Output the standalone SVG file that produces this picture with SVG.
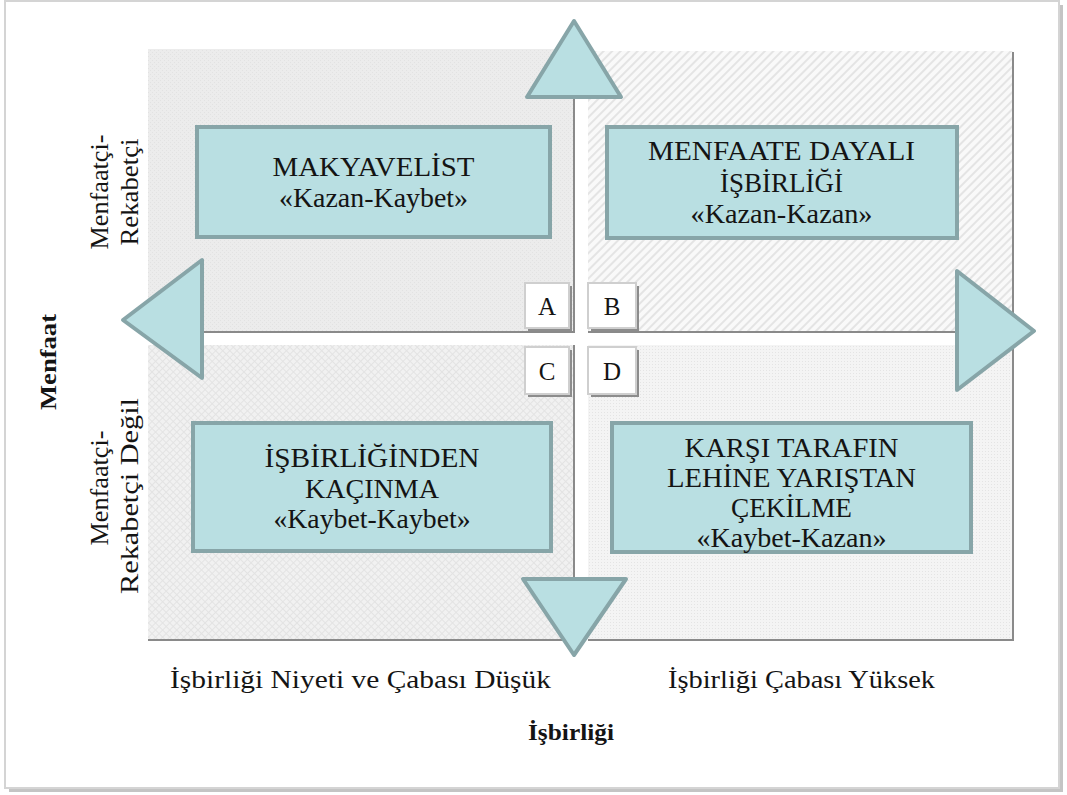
<svg xmlns="http://www.w3.org/2000/svg" width="1067" height="795" viewBox="0 0 1067 795">
<style>
.t{font-family:"Liberation Serif","Times New Roman",serif;fill:#141414;text-anchor:middle}
.bx{font-size:27px}
.lbl{font-size:26px}
.let{font-size:25px}
.b{font-weight:bold;font-size:23px}
.box{fill:#b9dfe2;stroke:#87a5a8;stroke-width:4}
.tri{fill:#b9dfe2;stroke:#87a5a8;stroke-width:4;stroke-linejoin:round}
.edge{stroke:#8a8a8a;stroke-width:2;fill:none}
.lbox{fill:#ffffff;stroke:#cfcfcf;stroke-width:2}
.lsh{fill:#8c8c8c}
</style>
<defs>
<pattern id="pTL" width="4" height="4" patternUnits="userSpaceOnUse">
<rect width="4" height="4" fill="#ececec"/>
<rect x="0" y="0" width="1" height="1" fill="#e2e2e2"/>
<rect x="2" y="2" width="1" height="1" fill="#e2e2e2"/>
</pattern>
<pattern id="pTR" width="6" height="6" patternUnits="userSpaceOnUse" patternTransform="rotate(45)">
<rect width="6" height="6" fill="#f9f9f9"/>
<rect x="0" y="0" width="2" height="6" fill="#e4e4e4"/>
</pattern>
<pattern id="pBL" width="5" height="5" patternUnits="userSpaceOnUse" patternTransform="rotate(45)">
<rect width="5" height="5" fill="#f1f1f1"/>
<rect x="0" y="0" width="1" height="5" fill="#e3e3e3"/>
<rect x="0" y="0" width="5" height="1" fill="#e3e3e3"/>
</pattern>
<pattern id="pBR" width="3" height="3" patternUnits="userSpaceOnUse">
<rect width="3" height="3" fill="#f4f4f4"/>
<rect x="1" y="1" width="1" height="1" fill="#e4e4e4"/>
</pattern>
</defs>

<g id="frame">
<rect x="9" y="5" width="1054" height="787" fill="#c4c4c4"/>
<rect x="5" y="1" width="1054" height="787" fill="#ffffff" stroke="#d4d4d4" stroke-width="2"/>
</g>

<g id="panels">
<rect id="panel-tl" x="148" y="49" width="426" height="283" fill="url(#pTL)"/>
<rect id="panel-tr" x="588" y="51" width="425" height="281" fill="url(#pTR)"/>
<rect id="panel-bl" x="148" y="345" width="426" height="295" fill="url(#pBL)"/>
<rect id="panel-br" x="588" y="345" width="425" height="295" fill="url(#pBR)"/>
<path class="edge" d="M1013,52 V332 H588"/>
<path class="edge" d="M1013,346 V640 H588"/>
<path class="edge" d="M148,640 H574"/>
</g>

<g id="connectors">
<path class="edge" d="M574,97 V332 H190"/>
<path class="edge" d="M574,345 V590"/>
<path class="edge" d="M588,332 H960"/>
<polygon class="tri" points="574,21 621,97 527,97"/>
<polygon class="tri" points="123,320 202,260 202,378"/>
<polygon class="tri" points="1034,331 957,271 957,390"/>
<polygon class="tri" points="574,655 523,579 626,579"/>
</g>

<g id="node-a">
<rect id="box-a" class="box" x="197" y="127" width="353" height="110"/>
<text class="t bx" x="373.5" y="176" textLength="202" lengthAdjust="spacingAndGlyphs">MAKYAVELİST</text>
<text class="t bx" x="373.5" y="207" textLength="189" lengthAdjust="spacingAndGlyphs">«Kazan-Kaybet»</text>
</g>

<g id="node-b">
<rect id="box-b" class="box" x="607" y="127" width="350" height="111"/>
<text class="t bx" x="781.5" y="160" textLength="267" lengthAdjust="spacingAndGlyphs">MENFAATE DAYALI</text>
<text class="t bx" x="781.5" y="192" textLength="123" lengthAdjust="spacingAndGlyphs">İŞBİRLİĞİ</text>
<text class="t bx" x="781.5" y="223" textLength="182" lengthAdjust="spacingAndGlyphs">«Kazan-Kazan»</text>
</g>

<g id="node-c">
<rect id="box-c" class="box" x="193" y="423" width="358" height="128"/>
<text class="t bx" x="372" y="467" textLength="215" lengthAdjust="spacingAndGlyphs">İŞBİRLİĞİNDEN</text>
<text class="t bx" x="372" y="498" textLength="134" lengthAdjust="spacingAndGlyphs">KAÇINMA</text>
<text class="t bx" x="372" y="528" textLength="197" lengthAdjust="spacingAndGlyphs">«Kaybet-Kaybet»</text>
</g>

<g id="node-d">
<rect id="box-d" class="box" x="612" y="423" width="359" height="129"/>
<text class="t bx" x="791.5" y="457" textLength="214" lengthAdjust="spacingAndGlyphs">KARŞI TARAFIN</text>
<text class="t bx" x="791.5" y="487" textLength="249" lengthAdjust="spacingAndGlyphs">LEHİNE YARIŞTAN</text>
<text class="t bx" x="791.5" y="517" textLength="121" lengthAdjust="spacingAndGlyphs">ÇEKİLME</text>
<text class="t bx" x="791.5" y="547" textLength="190" lengthAdjust="spacingAndGlyphs">«Kaybet-Kazan»</text>
</g>

<g id="letter-a">
<rect class="lsh" x="528" y="286" width="44" height="45"/>
<rect class="lbox" x="525" y="283" width="44" height="45"/>
<text class="t let" x="547" y="315">A</text>
</g>
<g id="letter-b">
<rect class="lsh" x="591" y="286" width="48" height="45"/>
<rect class="lbox" x="588" y="283" width="48" height="45"/>
<text class="t let" x="612" y="315">B</text>
</g>
<g id="letter-c">
<rect class="lsh" x="528" y="350" width="44" height="47"/>
<rect class="lbox" x="525" y="347" width="44" height="47"/>
<text class="t let" x="547" y="380">C</text>
</g>
<g id="letter-d">
<rect class="lsh" x="591" y="350" width="48" height="47"/>
<rect class="lbox" x="588" y="347" width="48" height="47"/>
<text class="t let" x="612" y="380">D</text>
</g>

<g id="axis-labels">
<text class="t lbl" x="360.5" y="688" textLength="381" lengthAdjust="spacingAndGlyphs">İşbirliği Niyeti ve Çabası Düşük</text>
<text class="t lbl" x="801.5" y="688" textLength="267" lengthAdjust="spacingAndGlyphs">İşbirliği Çabası Yüksek</text>
<text class="t b" x="571" y="740" textLength="86" lengthAdjust="spacingAndGlyphs">İşbirliği</text>
<text class="t b" transform="translate(56,362) rotate(-90)" textLength="96" lengthAdjust="spacingAndGlyphs">Menfaat</text>
<text class="t lbl" transform="translate(108,192) rotate(-90)" textLength="115" lengthAdjust="spacingAndGlyphs">Menfaatçi-</text>
<text class="t lbl" transform="translate(138,192) rotate(-90)" textLength="107" lengthAdjust="spacingAndGlyphs">Rekabetçi</text>
<text class="t lbl" transform="translate(108,488) rotate(-90)" textLength="115" lengthAdjust="spacingAndGlyphs">Menfaatçi-</text>
<text class="t lbl" transform="translate(138,496) rotate(-90)" textLength="196" lengthAdjust="spacingAndGlyphs">Rekabetçi Değil</text>
</g>
</svg>
